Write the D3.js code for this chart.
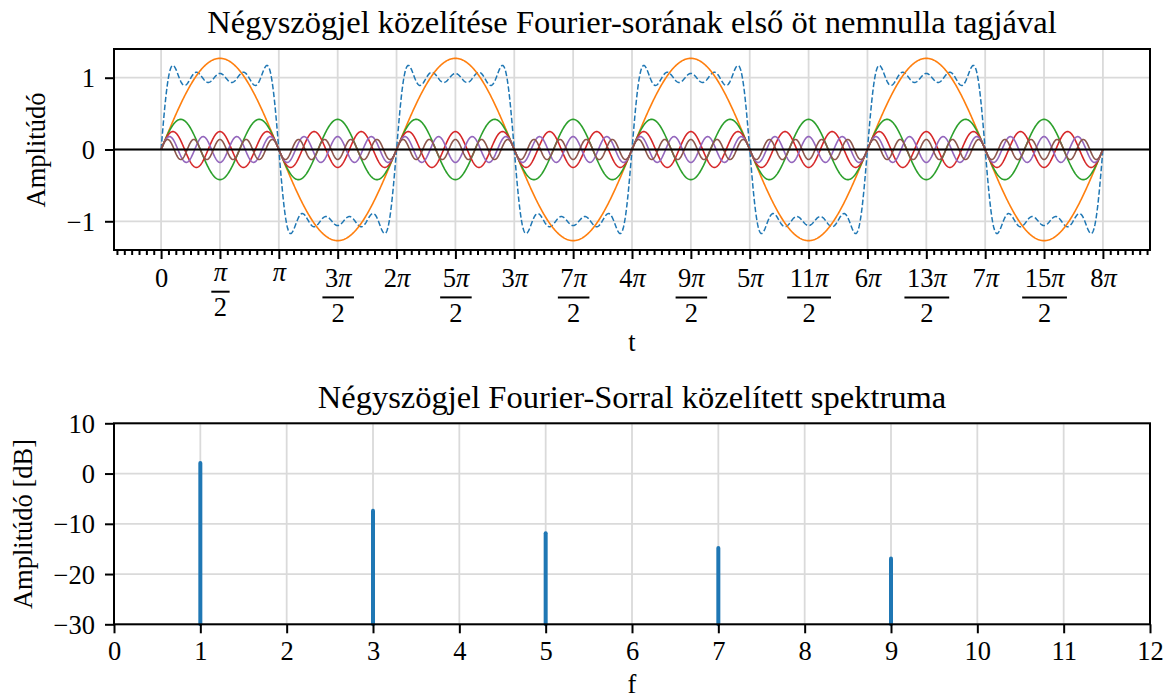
<!DOCTYPE html>
<html>
<head>
<meta charset="utf-8">
<script src="https://cdn.jsdelivr.net/npm/d3@7"></script>
<style>
  body { margin: 0; background: #fff; }
  svg text { font-family: "Liberation Serif", "Times New Roman", serif; fill: #000; }
</style>
</head>
<body>
<div id="chart"></div>
<script>
// harmonics of the square wave and their amplitudes
const harmonics = [1, 3, 5, 7, 9];
const amplitudes = [1.27, 0.42, 0.25, 0.18, 0.14];
const termColors = ["#ff7f0e", "#2ca02c", "#d62728", "#9467bd", "#8c564b"];
const sumColor = "#1f77b4";

// spectrum in dB (bottom plot)
const freqs = [1, 3, 5, 7, 9];
const levelsDb = [2.1, -7.4, -11.9, -14.8, -16.9];

// tick labels
const tTickLabels = ["0", "π/2", "π", "3π/2", "2π", "5π/2", "3π", "7π/2", "4π",
  "9π/2", "5π", "11π/2", "6π", "13π/2", "7π", "15π/2", "8π"];
const ampTicks = [-1, 0, 1];
const fTicks = [0, 1, 2, 3, 4, 5, 6, 7, 8, 9, 10, 11, 12];
const dbTicks = [-30, -20, -10, 0, 10];

const W = 1169, H = 698;
const PI = Math.PI;
const fs = 26.5, fsTitle = 32.5;
const minus = s => String(s).replace("-", "\u2212");

var svg = d3.select("#chart").append("svg")
  .attr("width", W).attr("height", H);

// ---------- top plot ----------
var x1 = d3.scaleLinear().domain([-0.4 * PI, 8.4 * PI]).range([114, 1150]);
var y1 = d3.scaleLinear().domain([-1.4, 1.4]).range([250, 49]);
var majorT = tTickLabels.map((d, i) => i * PI / 2);
var minorT = d3.range(-6, 135).map(i => i * PI / 16).filter(v => v >= x1.domain()[0] && v <= x1.domain()[1] && Math.abs(v / (PI / 2) - Math.round(v / (PI / 2))) > 1e-6);

var topG = svg.append("g");

// grid
topG.append("g").selectAll("line").data(majorT).join("line")
  .attr("x1", d => x1(d)).attr("x2", d => x1(d))
  .attr("y1", y1.range()[0]).attr("y2", y1.range()[1])
  .attr("stroke", "#dadada").attr("stroke-width", 1.8);
topG.append("g").selectAll("line").data(ampTicks).join("line")
  .attr("x1", x1.range()[0]).attr("x2", x1.range()[1])
  .attr("y1", d => y1(d)).attr("y2", d => y1(d))
  .attr("stroke", "#dadada").attr("stroke-width", 1.8);

// curves
var ts = d3.range(0, 2001).map(i => i * 8 * PI / 2000);
var line1 = d3.line().x(d => x1(d[0])).y(d => y1(d[1]));

var sumPts = ts.map(t => [t, d3.sum(harmonics, (k, j) => amplitudes[j] * Math.sin(k * t))]);
topG.append("path").attr("d", line1(sumPts))
  .attr("fill", "none").attr("stroke", sumColor).attr("stroke-width", 1.5)
  .attr("stroke-dasharray", "5.5,2.4");

harmonics.forEach(function(k, j) {
  var pts = ts.map(t => [t, amplitudes[j] * Math.sin(k * t)]);
  topG.append("path").attr("d", line1(pts))
    .attr("fill", "none").attr("stroke", termColors[j]).attr("stroke-width", 1.6);
});

// zero line
topG.append("line")
  .attr("x1", x1.range()[0]).attr("x2", x1.range()[1])
  .attr("y1", y1(0)).attr("y2", y1(0))
  .attr("stroke", "#000").attr("stroke-width", 2.2);

// axes
var xAxis1 = topG.append("g").attr("transform", "translate(0," + y1.range()[0] + ")")
  .call(d3.axisBottom(x1).tickValues(majorT).tickSize(9).tickFormat(() => ""));
topG.append("g").attr("transform", "translate(0," + y1.range()[0] + ")")
  .call(d3.axisBottom(x1).tickValues(minorT).tickSize(5).tickFormat(() => ""))
  .call(g => g.select(".domain").remove());

xAxis1.selectAll(".tick").each(function(d, i) {
  var g = d3.select(this);
  var lab = tTickLabels[i];
  var parts = lab.split("/");
  var num = parts[0];
  var numBase = (num === "π") ? 31 : 36.7;
  var t = g.append("text").attr("y", numBase).attr("text-anchor", "middle")
    .attr("font-size", fs);
  num.split("").forEach(function(c) {
    t.append("tspan").text(c).attr("font-style", c === "π" ? "italic" : null);
  });
  if (parts.length > 1) {
    var w = t.node().getComputedTextLength() + 5;
    var barY = numBase + 10.7;
    g.append("line").attr("x1", -w / 2).attr("x2", w / 2)
      .attr("y1", barY).attr("y2", barY)
      .attr("stroke", "#000").attr("stroke-width", 1.3);
    g.append("text").attr("y", barY + 24.4).attr("text-anchor", "middle")
      .attr("font-size", fs).text(parts[1]);
  }
});

topG.append("g").attr("transform", "translate(" + x1.range()[0] + ",0)")
  .call(d3.axisLeft(y1).tickValues(ampTicks).tickSize(9).tickPadding(10).tickFormat(minus))
  .call(g => g.selectAll("text").attr("font-size", fs).attr("dy", null).attr("y", 9));

topG.selectAll(".domain").remove();
topG.selectAll(".tick line").attr("stroke-width", 2);

topG.append("rect")
  .attr("x", x1.range()[0]).attr("y", y1.range()[1])
  .attr("width", x1.range()[1] - x1.range()[0]).attr("height", y1.range()[0] - y1.range()[1])
  .attr("fill", "none").attr("stroke", "#000").attr("stroke-width", 2);

topG.append("text").attr("x", 632).attr("y", 33).attr("text-anchor", "middle")
  .attr("font-size", fsTitle).text("Négyszögjel közelítése Fourier-sorának első öt nemnulla tagjával");
topG.append("text").attr("x", 632).attr("y", 351).attr("text-anchor", "middle")
  .attr("font-size", fs).text("t");
topG.append("text").attr("transform", "translate(45,150) rotate(-90)").attr("text-anchor", "middle")
  .attr("font-size", fs).text("Amplitúdó");

// ---------- bottom plot ----------
var x2 = d3.scaleLinear().domain([0, 12]).range([114, 1150]);
var y2 = d3.scaleLinear().domain([-30, 10]).range([624.3, 423.3]);

var botG = svg.append("g");

botG.append("g").selectAll("line").data(fTicks).join("line")
  .attr("x1", d => x2(d)).attr("x2", d => x2(d))
  .attr("y1", y2.range()[0]).attr("y2", y2.range()[1])
  .attr("stroke", "#dadada").attr("stroke-width", 1.8);
botG.append("g").selectAll("line").data(dbTicks).join("line")
  .attr("x1", x2.range()[0]).attr("x2", x2.range()[1])
  .attr("y1", d => y2(d)).attr("y2", d => y2(d))
  .attr("stroke", "#dadada").attr("stroke-width", 1.8);

botG.append("g").selectAll("line").data(freqs).join("line")
  .attr("x1", d => x2(d)).attr("x2", d => x2(d))
  .attr("y1", y2(-30)).attr("y2", (d, i) => y2(levelsDb[i]))
  .attr("stroke", sumColor).attr("stroke-width", 4).attr("stroke-linecap", "round");

botG.append("g").attr("transform", "translate(0," + y2.range()[0] + ")")
  .call(d3.axisBottom(x2).tickValues(fTicks).tickSize(9).tickPadding(9))
  .call(g => g.selectAll("text").attr("font-size", fs).attr("dy", null).attr("y", 35.7));
botG.append("g").attr("transform", "translate(" + x2.range()[0] + ",0)")
  .call(d3.axisLeft(y2).tickValues(dbTicks).tickSize(9).tickPadding(10).tickFormat(minus))
  .call(g => g.selectAll("text").attr("font-size", fs).attr("dy", null).attr("y", 9));

botG.selectAll(".domain").remove();
botG.selectAll(".tick line").attr("stroke-width", 2);

botG.append("rect")
  .attr("x", x2.range()[0]).attr("y", y2.range()[1])
  .attr("width", x2.range()[1] - x2.range()[0]).attr("height", y2.range()[0] - y2.range()[1])
  .attr("fill", "none").attr("stroke", "#000").attr("stroke-width", 2);

botG.append("text").attr("x", 632).attr("y", 408).attr("text-anchor", "middle")
  .attr("font-size", fsTitle).text("Négyszögjel Fourier-Sorral közelített spektruma");
botG.append("text").attr("x", 632).attr("y", 693).attr("text-anchor", "middle")
  .attr("font-size", fs).text("f");
botG.append("text").attr("transform", "translate(32,524) rotate(-90)").attr("text-anchor", "middle")
  .attr("font-size", fs).text("Amplitúdó [dB]");

// d3 axes set their own font-family on the axis group; use the serif one
svg.selectAll("g").attr("font-family", null);
</script>
</body>
</html>
